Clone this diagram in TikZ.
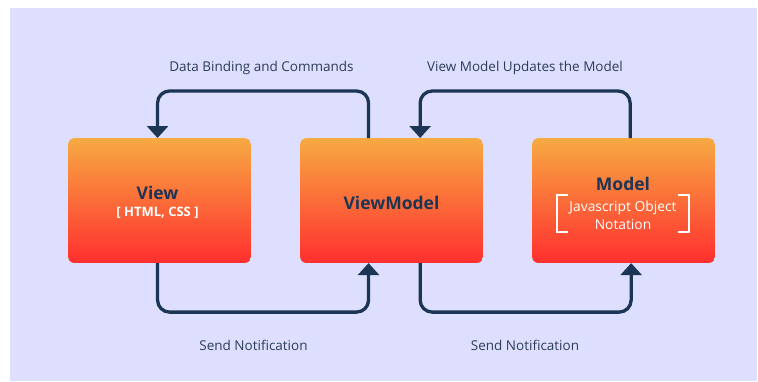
\documentclass[tikz,border=0pt]{standalone}
\usepackage{fontspec}
\setmainfont{Open Sans}
\usetikzlibrary{arrows.meta}
\definecolor{bg}{HTML}{DEDFFE}
\definecolor{navy}{HTML}{1C3555}
\definecolor{boxtop}{HTML}{F7AA42}
\definecolor{boxbot}{HTML}{FF2F2F}
\definecolor{labeltext}{HTML}{2B3D5A}
\begin{document}
\begin{tikzpicture}[x=1pt,y=-1pt,
  block/.style={minimum width=182.7pt, minimum height=124.7pt, rounded corners=6pt,
    top color=boxtop, bottom color=boxbot, inner sep=0pt, anchor=north west},
  flow/.style={draw=navy, line width=3.3pt, rounded corners=12pt,
    -{Triangle[width=21pt,length=12pt]}},
  caption/.style={text=labeltext, font=\fontsize{13.5}{16}\selectfont},
  title/.style={text=navy, font=\fontsize{17.5}{20}\selectfont\bfseries},
  subtitle/.style={text=white, font=\fontsize{13}{16}\selectfont\bfseries},
  note/.style={text=white, font=\fontsize{13.8}{18}\selectfont, align=center}
]
\useasboundingbox (0,0) rectangle (758,381);
\fill[bg] (10,8) rectangle (757,381);

% the three layers
\node[block] (view)  at (68,138)  {};
\node[block] (vm)    at (300,138) {};
\node[block] (model) at (532,138) {};

\node[title]    (viewt)  at (157.5,193) {View};
\node[subtitle] (views)  at (157.5,213) {[ HTML, CSS ]};
\node[title]    (vmt)    at (391.5,203) {ViewModel};
\node[title]    (modelt) at (623,184)   {Model};
\node[note]     (models) at (623,215)   {Javascript Object\\Notation};

% brackets around the model description
\draw[white, line width=2pt] (568,195) -| (557,231.7) -- (568,231.7);
\draw[white, line width=2pt] (678,195) -| (689,231.7) -- (678,231.7);

% connectors between the layers
\draw[flow] ([xshift=-23pt]vm.north) -- ++(0,-47) -| ([xshift=-2pt]view.north);
\draw[flow] ([xshift=6.6pt]model.north) -- ++(0,-47) -| ([xshift=28.6pt]vm.north);
\draw[flow] ([xshift=-2pt]view.south) -- ++(0,49) -| ([xshift=-23pt]vm.south);
\draw[flow] ([xshift=28.6pt]vm.south) -- ++(0,49) -| ([xshift=7.6pt]model.south);

% connector captions
\node[caption] (c1) at (261.5,68)  {Data Binding and Commands};
\node[caption] (c2) at (525,68)    {View Model Updates the Model};
\node[caption] (c3) at (253.5,345) {Send Notification};
\node[caption] (c4) at (525,345)   {Send Notification};
\end{tikzpicture}
\end{document}
